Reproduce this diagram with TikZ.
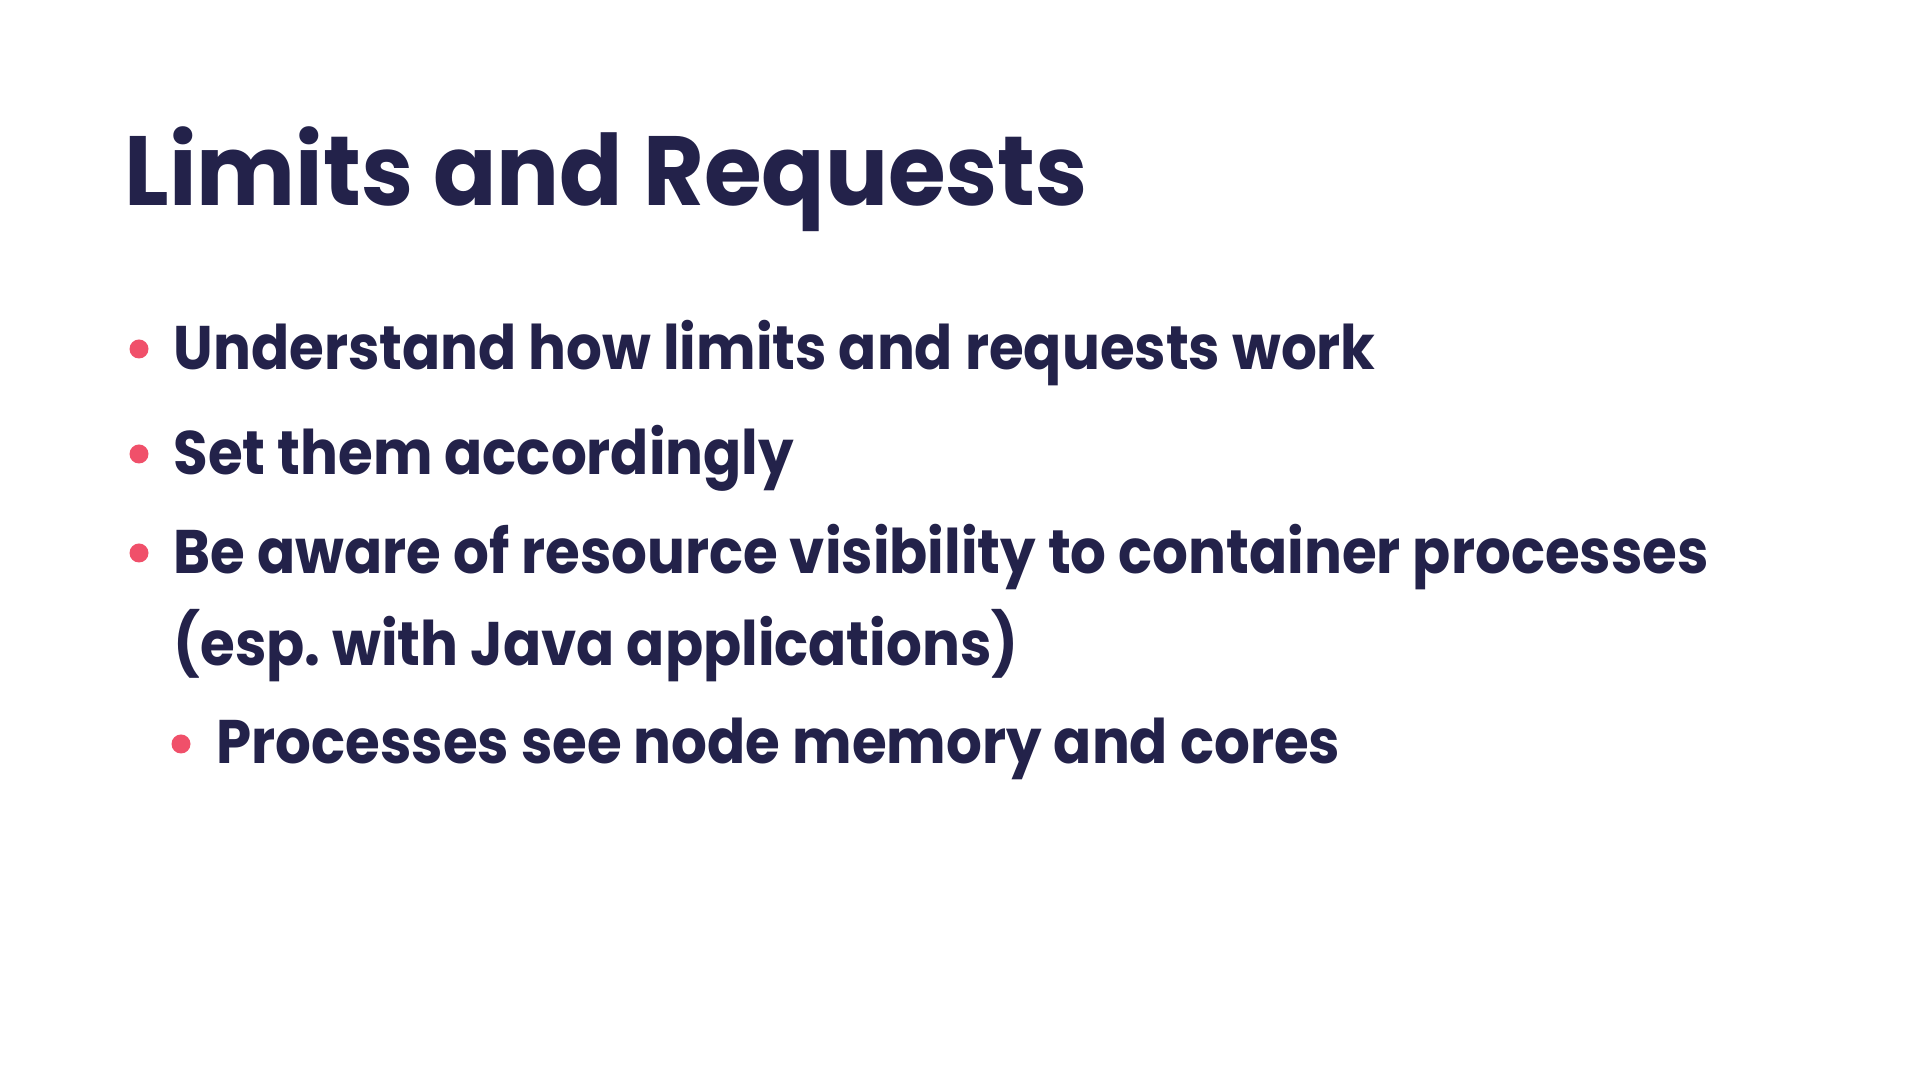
\documentclass[tikz,border=0pt]{standalone}
\usepackage{fontspec}
\setmainfont{Poppins}
\newfontfamily\headfont{Poppins}[FakeStretch=0.95]
\newfontfamily\itemfont{Poppins}[FakeStretch=0.915]
\usepackage{xcolor}
\usepackage{tikz}
\usetikzlibrary{positioning}
\definecolor{inkblue}{HTML}{23224A}
\definecolor{dotpink}{HTML}{F0506A}

\begin{document}
\begin{tikzpicture}[
    title/.style={anchor=base west, inner sep=0pt, text=inkblue, font=\headfont\bfseries\fontsize{28}{34}\selectfont},
    item/.style={anchor=base west, inner sep=0pt, text=inkblue, font=\itemfont\bfseries\fontsize{17.5}{22}\selectfont},
    dot/.style={circle, fill=dotpink, inner sep=0pt, minimum size=0.19cm}
]
    % Page
    \useasboundingbox (0,0) rectangle (19.2,10.8);
    \fill[white] (0,0) rectangle (19.2,10.8);

    % Title
    \node[title] (head) at (1.24,8.74) {Limits and Requests};

    % Bullets
    \node[dot] (d1) at (1.39,7.31) {};
    \node[item] (b1) at (1.73,7.10) {Understand how limits and requests work};
    \node[dot] (d2) at (1.39,6.26) {};
    \node[item] (b2) at (1.73,6.05) {Set them accordingly};
    \node[dot] (d3) at (1.39,5.27) {};
    \node[item] (b3) at (1.73,5.06) {Be aware of resource visibility to container processes};
    \node[item] (b3b) at (1.73,4.14) {(esp.\ with Java applications)};

    % Sub-bullet
    \node[dot] (d4) at (1.81,3.36) {};
    \node[item] (s1) at (2.16,3.16) {Processes see node memory and cores};
\end{tikzpicture}
\end{document}
